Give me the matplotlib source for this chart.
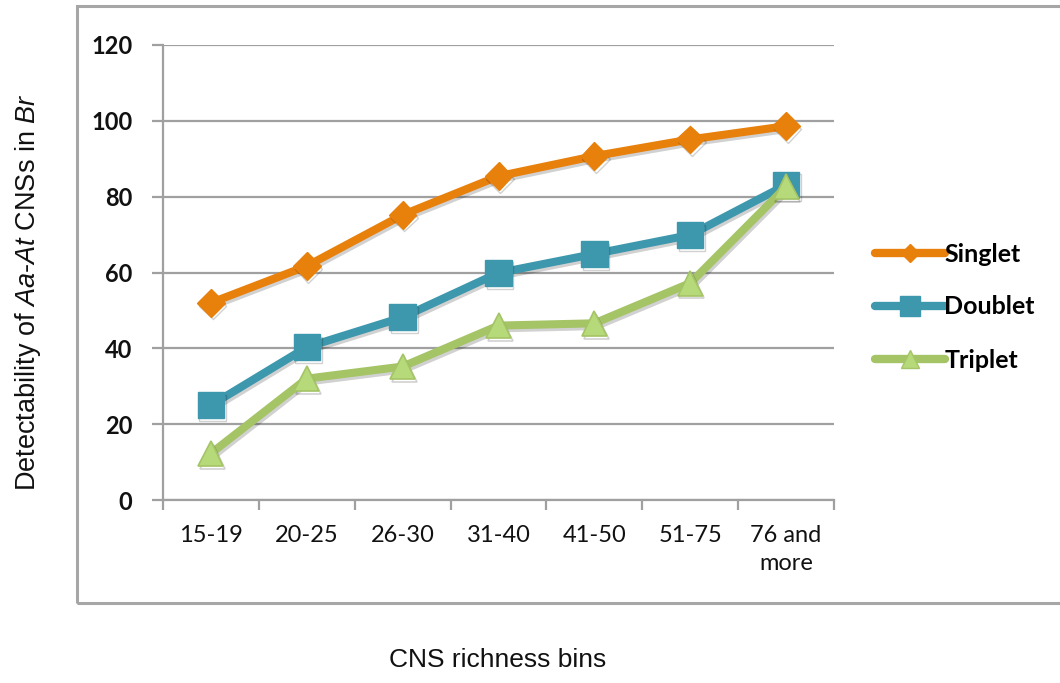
import matplotlib
matplotlib.use("Agg")
import matplotlib.pyplot as plt
import matplotlib.patheffects as pe
from matplotlib.patches import Rectangle
from matplotlib.lines import Line2D

# CNS richness bins and detectability (%) per series
categories = ["15-19", "20-25", "26-30", "31-40", "41-50", "51-75", "76 and\nmore"]
singlet = [52, 61.7, 75.2, 85.4, 90.7, 95.1, 98.6]
doublet = [25, 40.3, 48.2, 59.9, 64.9, 69.9, 83.1]
triplet = [12.3, 32, 35.2, 46, 46.6, 57.2, 82.6]
y_ticks = [0, 20, 40, 60, 80, 100, 120]

plt.rcParams["font.family"] = ["Lato", "DejaVu Sans"]
plt.rcParams["mathtext.fontset"] = "custom"
plt.rcParams["mathtext.it"] = "Liberation Sans:italic"
plt.rcParams["mathtext.rm"] = "Liberation Sans"

W, H = 1060, 683
fig = plt.figure(figsize=(W / 100, H / 100), dpi=100)
fig.patch.set_facecolor("white")

# outer chart frame
frame = Rectangle((77 / W, 1 - 603 / H), 1.2, (603 - 6) / H, transform=fig.transFigure,
                  fill=False, edgecolor="#a6a6a6", linewidth=2.2, clip_on=False)
fig.patches.append(frame)

ax = fig.add_axes([163 / W, 1 - 500 / H, (834 - 163) / W, (500 - 45) / H])
x = list(range(len(categories)))

grid_c = "#a0a0a0"
ax.set_ylim(0, 120)
ax.set_xlim(-0.5, len(categories) - 0.5)
ax.set_yticks(y_ticks)
ax.yaxis.grid(True, color=grid_c, linewidth=1.6)
ax.set_axisbelow(True)
for s in ["top", "right"]:
    ax.spines[s].set_visible(False)
for s in ["left", "bottom"]:
    ax.spines[s].set_color(grid_c)
    ax.spines[s].set_linewidth(1.6)

ax.set_xticks(x)
ax.set_xticklabels(categories, fontsize=17, linespacing=1.4)
ax.set_xticks([i - 0.5 for i in range(len(categories) + 1)], minor=True)
ax.tick_params(axis="x", which="major", length=0, pad=18, labelcolor="#111111")
ax.tick_params(axis="x", which="minor", length=7, width=1.6, color=grid_c, direction="out")
ax.tick_params(axis="y", length=8, width=1.6, color=grid_c, pad=14, labelsize=17,
               labelcolor="#111111")
for lbl in ax.get_yticklabels():
    lbl.set_fontweight("bold")

shadow = [pe.SimpleLineShadow(offset=(1.2, -2), shadow_color="#000000", alpha=0.18), pe.Normal()]

orange = "#e8800c"
teal = "#3d97ad"
green = "#a4c466"

ax.plot(x, singlet, color=orange, linewidth=5.8, marker="D", markersize=14,
        markerfacecolor=orange, markeredgecolor=orange, solid_capstyle="round",
        path_effects=shadow, zorder=5, label="Singlet")
ax.plot(x, doublet, color=teal, linewidth=5.8, marker="s", markersize=19,
        markerfacecolor=teal, markeredgecolor=teal, solid_capstyle="round",
        path_effects=shadow, zorder=4, label="Doublet")
ax.plot(x, triplet, color=green, linewidth=5.8, marker="^", markersize=18,
        markerfacecolor="#b6d97a", markeredgecolor=green, markeredgewidth=1.2,
        solid_capstyle="round", path_effects=shadow, zorder=6, label="Triplet")

handles = [
    Line2D([], [], color=orange, linewidth=6, marker="D", markersize=9, solid_capstyle="round"),
    Line2D([], [], color=teal, linewidth=6, marker="s", markersize=15, solid_capstyle="round"),
    Line2D([], [], color=green, linewidth=6, marker="^", markersize=13,
           markerfacecolor="#b6d97a", solid_capstyle="round"),
]
fig.legend(handles, ["Singlet", "Doublet", "Triplet"], loc="center left",
           bbox_to_anchor=(862 / W, 1 - 307 / H), frameon=False, borderpad=0,
           handlelength=2.8, handletextpad=0.0, labelspacing=1.2,
           prop={"family": "Lato", "weight": "bold", "size": 18})

fig.text(498 / W, 1 - 660 / H, "CNS richness bins", ha="center", va="center",
         fontsize=19, family="Liberation Sans", color="#111111")
fig.text(28 / W, 1 - 292 / H, r"Detectability of $Aa$-$At$ CNSs in $Br$", ha="center",
         va="center", rotation=90, fontsize=19.5, family="Liberation Sans", color="#111111")

fig.savefig("out.png", dpi=100, facecolor="white")
